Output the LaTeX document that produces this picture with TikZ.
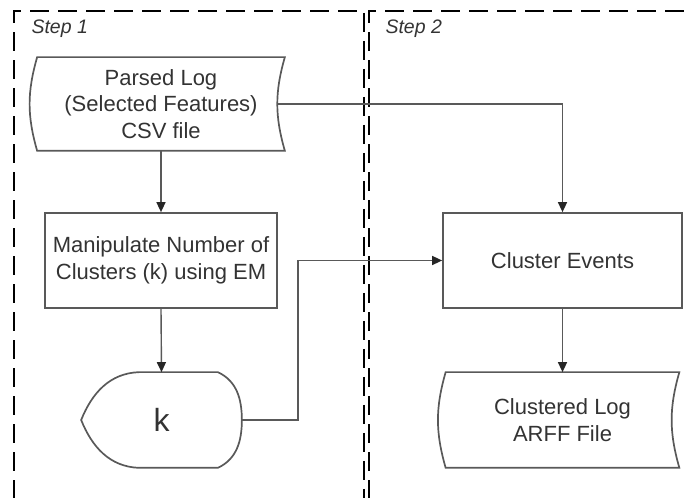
\documentclass[tikz,border=0pt]{standalone}
\usepackage{fontspec}
\setmainfont{Liberation Sans}
\usetikzlibrary{arrows.meta,calc}
\def\datafileoutline(#1){\draw[outline] (#1.north west) to[bend right=16] (#1.south west) -- (#1.south east) to[bend left=16] (#1.north east) -- cycle;}

\tikzset{
	outline/.style={draw=black!65, line width=1.7pt},
	box/.style={outline, text=black!80, align=center, minimum width=232pt, minimum height=95pt, font=\fontsize{22}{26.5}\selectfont},
	datafile/.style={box, draw=none},
	flow/.style={draw=black!65, line width=1.4pt, -{Triangle[length=10pt,width=9pt,color=black!85]}},
	stepframe/.style={dash pattern=on 19pt off 9pt, line width=2.8pt},
	steplabel/.style={anchor=base west, text=black!80, font=\fontsize{19.5}{22}\selectfont\itshape},
}

\begin{document}
\begin{tikzpicture}[x=1pt, y=1pt]
			%%%%% START %%%%%
			\useasboundingbox (0, 0) rectangle (692, 497);
			\clip (0, 0) rectangle (692, 497);
			
			% the two steps
			\draw[stepframe] (14, -30) -- (14, 486) -- (364, 486) -- (364, -30);
			\draw[stepframe] (369, -30) -- (369, 486) -- (720, 486);
			\node[steplabel] (stepone) at (28, 463) {Step 1};
			\node[steplabel] (steptwo) at (382, 463) {Step 2};
			
			% step 1
			\node[datafile, minimum width=246pt, minimum height=92pt] (parsed) at (161, 393) {Parsed Log\\(Selected Features)\\CSV file};
			\datafileoutline(parsed)
			
			\node[box] (manip) at (161, 236.5) {Manipulate Number of\\Clusters (k) using EM};
			
			\node[box, draw=none, minimum width=159pt, minimum height=94pt, font=\fontsize{32}{36}\selectfont] (kval) at (161.5, 77) {k};
			\draw[outline] ($(kval.north west)+(58, 0)$) -- ($(kval.north east)+(-24, 0)$) to[out=-25, in=90] (kval.east) to[out=-90, in=25] ($(kval.south east)+(-24, 0)$) -- ($(kval.south west)+(58, 0)$) to[out=178, in=-68] (kval.west) to[out=68, in=182] ($(kval.north west)+(58, 0)$) -- cycle;
			
			% step 2
			\node[box, minimum width=239pt] (cluster) at (562.5, 236.5) {Cluster Events};
			
			\node[datafile, minimum height=94pt] (clustered) at (562.5, 77) {Clustered Log\\ARFF File};
			\datafileoutline(clustered)
			
			% connectors
			\draw[flow] (parsed.south) -- (manip.north);
			\draw[flow] (manip.south) -- (kval.north);
			\draw[flow] ([xshift=-7pt]parsed.east) -| (cluster.north);
			\draw[flow] (kval.east) -- ++(56, 0) |- (cluster.west);
			\draw[flow] (cluster.south) -- (clustered.north);
			
			%%%%% END %%%%%
\end{tikzpicture}
\end{document}
